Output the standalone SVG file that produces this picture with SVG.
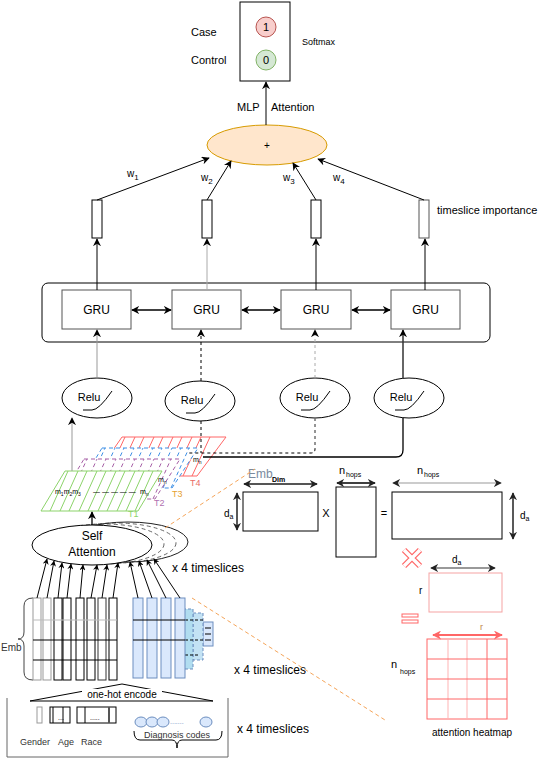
<svg xmlns="http://www.w3.org/2000/svg" width="548" height="762" viewBox="0 0 548 762">
<defs>
<marker id="a" viewBox="0 0 10 10" refX="9" refY="5" markerWidth="8" markerHeight="8" markerUnits="userSpaceOnUse" orient="auto-start-reverse"><path d="M0,0 L10,5 L0,10 L3,5 z" fill="#000"/></marker>
<marker id="as" viewBox="0 0 10 10" refX="9" refY="5" markerWidth="6" markerHeight="6" markerUnits="userSpaceOnUse" orient="auto-start-reverse"><path d="M0,0 L10,5 L0,10 L3,5 z" fill="#000"/></marker>
<marker id="ag" viewBox="0 0 10 10" refX="9" refY="5" markerWidth="8" markerHeight="8" markerUnits="userSpaceOnUse" orient="auto-start-reverse"><path d="M0,0 L10,5 L0,10 L3,5 z" fill="#222"/></marker>
<marker id="ar" viewBox="0 0 10 10" refX="9" refY="5" markerWidth="9" markerHeight="9" markerUnits="userSpaceOnUse" orient="auto-start-reverse"><path d="M0,0 L10,5 L0,10 L3,5 z" fill="#ff6666"/></marker>
</defs>
<style>
text{font-family:"Liberation Sans",Arial,sans-serif;fill:#000}
.t11{font-size:11px}
.t12{font-size:12px}
.t10{font-size:10px}
.t9{font-size:9px}
.sm{font-size:7px}
.box{fill:#fff;stroke:#000;stroke-width:1}
.gru{fill:#fff;stroke:#555;stroke-width:1}
.relu{fill:#fff;stroke:#000;stroke-width:1}
.c{fill:none;stroke:#000;stroke-width:1}
.mid{text-anchor:middle}
</style>

<!-- Softmax output -->
<g id="softmax">
<rect x="240" y="2" width="50" height="79" class="box" stroke-width="1.3"/>
<circle cx="266" cy="27" r="10" fill="#f8cecc" stroke="#b85450"/>
<text x="266" y="31" class="t11 mid">1</text>
<circle cx="266" cy="60" r="10" fill="#d5e8d4" stroke="#82b366"/>
<text x="266" y="64" class="t11 mid">0</text>
<text x="191" y="36" class="t11">Case</text>
<text x="191" y="64" class="t11">Control</text>
<text x="302" y="45" class="t9">Softmax</text>
</g>

<g id="sum">
<ellipse cx="267" cy="145" rx="60" ry="20" fill="#ffe6cc" stroke="#d79b00"/>
<text x="267" y="149" class="t10 mid">+</text>
</g>

<g id="bars">
<rect x="92" y="200" width="10" height="38" class="box"/>
<rect x="202" y="200" width="10" height="38" class="box"/>
<rect x="311" y="200" width="10" height="38" class="box"/>
<rect x="419" y="200" width="10" height="38" fill="#fff" stroke="#555"/>
<text x="437" y="214" class="t11">timeslice importance</text>
</g>

<g id="gru-layer">
<rect x="42" y="283" width="448" height="59" rx="6" fill="none" stroke="#000"/>
<g id="gru1"><rect x="62" y="290" width="69" height="39" class="gru"/><text x="96.5" y="314" class="t12 mid">GRU</text></g>
<g id="gru2"><rect x="172" y="290" width="69" height="39" class="gru"/><text x="206.5" y="314" class="t12 mid">GRU</text></g>
<g id="gru3"><rect x="281" y="290" width="70" height="39" class="gru"/><text x="316" y="314" class="t12 mid">GRU</text></g>
<g id="gru4"><rect x="391" y="290" width="69" height="39" class="gru"/><text x="425.5" y="314" class="t12 mid">GRU</text></g>
</g>

<g id="relus">
<g id="relu1"><ellipse cx="97" cy="398" rx="35" ry="20" class="relu"/><text x="89" y="401" class="t11 mid">Relu</text><path d="M83,410 H92 Q99,410 112,391" class="c"/></g>
<g id="relu2"><ellipse cx="200" cy="401" rx="35" ry="20" class="relu"/><text x="192" y="404" class="t11 mid">Relu</text><path d="M186,413 H195 Q202,413 215,394" class="c"/></g>
<g id="relu3"><ellipse cx="315" cy="398" rx="35" ry="20" class="relu"/><text x="307" y="401" class="t11 mid">Relu</text><path d="M301,410 H310 Q317,410 330,391" class="c"/></g>
<g id="relu4"><ellipse cx="409" cy="398" rx="35" ry="20" class="relu"/><text x="401" y="401" class="t11 mid">Relu</text><path d="M395,410 H404 Q411,410 424,391" class="c"/></g>
</g>

<!-- timeslice planes -->
<g id="plane-T4">
<polygon points="122,437 226,437 197,476 95,476" fill="#fff" stroke="#ff6666"/>
<path d="M107,476L125,437 M117,476L135,437 M126,476L144,437 M136,476L154,437 M145,476L163,437 M155,476L173,437 M164,476L182,437 M174,476L192,437 M183,476L201,437 M192,476L210,437" stroke="#ff6666" fill="none"/>
<text x="193" y="462" class="sm">m<tspan font-size="5" dy="2">n</tspan></text>
<text x="190" y="486" class="t9" style="fill:#ea6b66">T4</text>
</g>
<g id="plane-T3">
<polygon points="102,448 198,448 172,488 78,488" fill="#fff" stroke="#3d8fe6" stroke-dasharray="4 3"/>
<path d="M87,488L105,448 M97,488L115,448 M106,488L124,448 M116,488L134,448 M125,488L143,448 M135,488L153,448 M144,488L162,448 M154,488L172,448 M163,488L181,448 M171,488L189,448" stroke="#3d8fe6" fill="none" stroke-dasharray="4 3"/>
<text x="172" y="497" class="t9" style="fill:#e6a230">T3</text>
</g>
<g id="plane-T2">
<polygon points="84,459 180,459 155,499 60,499" fill="#fff" stroke="#a65fa6" stroke-dasharray="4 3"/>
<path d="M69,499L87,459 M79,499L97,459 M88,499L106,459 M98,499L116,459 M107,499L125,459 M117,499L135,459 M126,499L144,459 M136,499L154,459 M145,499L163,459 M153,499L171,459" stroke="#a65fa6" fill="none" stroke-dasharray="4 3"/>
<text x="158" y="482" class="sm">m<tspan font-size="5" dy="2">n</tspan></text>
<text x="154" y="506" class="t9" style="fill:#b070b0">T2</text>
</g>
<g id="plane-T1">
<polygon points="65,471 162,471 138,511 41,511" fill="#fff" stroke="#8cd36a"/>
<path d="M50,511L68,471 M60,511L78,471 M69,511L87,471 M79,511L97,471 M88,511L106,471 M98,511L116,471 M107,511L125,471 M117,511L135,471 M126,511L144,471 M135,511L153,471" stroke="#8cd36a" fill="none"/>
<text x="55" y="494" class="sm">m<tspan font-size="5" dy="2">1</tspan><tspan dy="-2">m</tspan><tspan font-size="5" dy="2">2</tspan><tspan dy="-2">m</tspan><tspan font-size="5" dy="2">3</tspan></text>
<text x="93" y="494" class="sm">— — — — —</text>
<text x="140" y="494" class="sm">m<tspan font-size="5" dy="2">n</tspan></text>
<text x="128" y="517" class="t9" style="fill:#8cd36a">T1</text>
</g>

<!-- self attention -->
<g id="self-attention">
<ellipse cx="104" cy="544" rx="60" ry="20" fill="none" stroke="#666" stroke-dasharray="4 3"/>
<ellipse cx="116" cy="543" rx="60" ry="20" fill="none" stroke="#666" stroke-dasharray="4 3"/>
<ellipse cx="128" cy="542" rx="60" ry="20" fill="none" stroke="#222"/>
<ellipse cx="92" cy="545" rx="60" ry="20" fill="#fff" stroke="#000"/>
<text x="92" y="540" class="t12 mid">Self</text>
<text x="92" y="556" class="t12 mid">Attention</text>
<text x="172" y="572" class="t12">x 4 timeslices</text>
</g>

<!-- embedding columns -->
<g id="embeddings">
<path d="M33,598 Q24,598 24,606 V632 Q24,639 18,639 Q24,639 24,646 V672 Q24,680 33,680" fill="none" stroke="#444"/>
<text x="1" y="651" class="t10" style="fill:#333">Emb</text>
<g fill="#fff">
<rect x="33" y="598" width="8" height="82" stroke="#999"/>
<rect x="43" y="598" width="8" height="82" stroke="#999"/>
<rect x="54" y="598" width="8" height="82" stroke="#000"/>
<rect x="63" y="598" width="8" height="82" stroke="#000"/>
<rect x="76" y="598" width="8" height="82" stroke="#000"/>
<rect x="87" y="598" width="8" height="82" stroke="#000"/>
<rect x="98" y="598" width="8" height="82" stroke="#333"/>
<rect x="109" y="598" width="8" height="82" stroke="#000"/>
</g>
<path d="M33,620H117" stroke="#bbb"/>
<path d="M33,640H117 M33,660H117" stroke="#000"/>
<rect x="203" y="622" width="10" height="24" fill="#dae8fc" stroke="#6c8ebf"/>
<path d="M205,628H211 M205,634H211 M205,640H211" stroke="#000"/>
<rect x="193" y="613" width="10" height="47" fill="#c3e2f4" stroke="#6c8ebf" stroke-dasharray="3 2"/>
<rect x="183" y="609" width="10" height="60" fill="#b1ddf0" stroke="#6c8ebf" stroke-dasharray="3 2"/>
<path d="M185,620H203 M185,640H203 M185,655H200" stroke="#000" stroke-dasharray="3 2"/>
<g fill="#dae8fc" stroke="#6c8ebf">
<rect x="133" y="598" width="10" height="80"/>
<rect x="147" y="598" width="10" height="80"/>
<rect x="161" y="598" width="10" height="80"/>
<rect x="175" y="598" width="10" height="80"/>
</g>
<path d="M133,620H185 M133,640H185" stroke="#000"/>
<text x="234" y="674" class="t12">x 4 timeslices</text>
</g>

<!-- inputs -->
<g id="inputs">
<path d="M7,698 V757 H228 V698" fill="none" stroke="#666"/>
<polygon points="30,701 122,684 213,701" fill="none" stroke="#000"/>
<rect x="82" y="689" width="80" height="10" fill="#fff"/>
<text x="122" y="698" class="t10 mid">one-hot encode</text>
<rect x="37" y="707" width="5" height="16" fill="#fff" stroke="#999"/>
<rect x="50" y="707" width="20" height="16" fill="#fff" stroke="#000"/>
<path d="M53,707V723 M63,707V723" stroke="#000"/>
<text x="58" y="720" class="sm">...</text>
<rect x="77" y="707" width="39" height="16" fill="#fff" stroke="#000"/>
<path d="M85,707V723" stroke="#000"/>
<path d="M109,707V723" stroke="#555" stroke-width="2"/>
<text x="90" y="720" class="sm">.....</text>
<text x="20" y="745" class="t9" style="fill:#333">Gender</text>
<text x="58" y="745" class="t9" style="fill:#333">Age</text>
<text x="81" y="745" class="t9" style="fill:#333">Race</text>
<g fill="#dae8fc" stroke="#6c8ebf">
<ellipse cx="141" cy="722" rx="6" ry="5"/>
<ellipse cx="152" cy="722" rx="6" ry="5"/>
<ellipse cx="163" cy="722" rx="6" ry="5"/>
<ellipse cx="206" cy="722" rx="6" ry="5"/>
</g>
<text x="170" y="724" class="sm" style="fill:#6c8ebf">.......</text>
<path d="M134,731 Q134,740 140,740 H172 Q177,740 177,748 Q177,740 182,740 H216 Q222,740 222,731" fill="none" stroke="#000"/>
<text x="177" y="738" class="t9 mid" style="fill:#333">Diagnosis codes</text>
<text x="237" y="733" class="t12">x 4 timeslices</text>
</g>

<!-- matrix multiplication -->
<g id="matrix-emb">
<rect x="243" y="492" width="75" height="39" class="box"/>
<text x="248" y="478" class="t12" style="fill:#7a8a9e">Emb</text>
<text x="272" y="482" class="sm" style="font-weight:bold">Dim</text>
<text x="224" y="517" class="t10">d<tspan font-size="7" dy="2">a</tspan></text>
<text x="326" y="517" class="t11 mid">X</text>
</g>
<g id="matrix-hops">
<rect x="336" y="487" width="40" height="70" class="box"/>
<text x="339" y="474" class="t11">n</text>
<text x="346" y="477" class="sm">hops</text>
<text x="384" y="517" class="t11 mid">=</text>
</g>
<g id="matrix-result">
<rect x="392" y="492" width="110" height="47" class="box"/>
<text x="417" y="474" class="t11">n</text>
<text x="424" y="477" class="sm">hops</text>
<text x="520" y="519" class="t10">d<tspan font-size="7" dy="2">a</tspan></text>
</g>
<g id="matrix-r">
<path d="M404,550 L420,566 M420,550 L404,566" stroke="#ff6666" stroke-width="6"/>
<path d="M404,550 L420,566 M420,550 L404,566" stroke="#fff" stroke-width="3.5"/>
<rect x="429" y="573" width="73" height="39" fill="#fff" stroke="#f5a3a3"/>
<text x="452" y="563" class="t10">d<tspan font-size="7" dy="2">a</tspan></text>
<text x="419" y="594" class="t10">r</text>
<rect x="402" y="614" width="16" height="3" fill="none" stroke="#ff6666"/>
<rect x="402" y="620" width="16" height="3" fill="none" stroke="#ff6666"/>
</g>
<g id="heatmap">
<rect x="427" y="639" width="80" height="80" fill="#fff" stroke="#ff6666"/>
<path d="M448,639V719 M467,639V719" stroke="#ffb3b3"/>
<path d="M487,639V719 M427,659H507 M427,679H507 M427,699H507" stroke="#ff6666"/>
<text x="480" y="630" class="t9" style="fill:#c0874f">r</text>
<text x="391" y="668" class="t11">n</text>
<text x="400" y="674" class="sm">hops</text>
<text x="472" y="736" class="t10 mid">attention heatmap</text>
</g>

<!-- connectors -->
<g id="connectors" fill="none">
<path d="M266,125 V82" stroke="#000" marker-end="url(#a)"/>
<text x="237" y="111" class="t11">MLP</text>
<text x="271" y="111" class="t11">Attention</text>
<path d="M97,200 L209,158" stroke="#000" marker-end="url(#a)"/>
<path d="M207,200 L231,161" stroke="#000" marker-end="url(#a)"/>
<path d="M316,200 L293,163" stroke="#000" marker-end="url(#a)"/>
<path d="M424,200 L318,159" stroke="#000" marker-end="url(#a)"/>
<text x="127" y="177" class="t10">w<tspan font-size="8" dy="3">1</tspan></text>
<text x="201" y="181" class="t10">w<tspan font-size="8" dy="3">2</tspan></text>
<text x="283" y="181" class="t10">w<tspan font-size="8" dy="3">3</tspan></text>
<text x="333" y="181" class="t10">w<tspan font-size="8" dy="3">4</tspan></text>
<path d="M97,290 V239" stroke="#000" marker-end="url(#a)"/>
<path d="M207,290 V239" stroke="#aaa" marker-end="url(#a)"/>
<path d="M316,290 V239" stroke="#000" marker-end="url(#a)"/>
<path d="M425,290 V239" stroke="#000" marker-end="url(#a)"/>
<path d="M132,310 H171" stroke="#000" stroke-width="1.5" marker-start="url(#a)" marker-end="url(#a)"/>
<path d="M242,310 H280" stroke="#000" stroke-width="1.5" marker-start="url(#a)" marker-end="url(#a)"/>
<path d="M352,310 H390" stroke="#000" stroke-width="1.5" marker-start="url(#a)" marker-end="url(#a)"/>
<path d="M97,378 V330" stroke="#999" marker-end="url(#a)"/>
<path d="M201,381 V330" stroke="#000" stroke-dasharray="3 3" marker-end="url(#a)"/>
<path d="M315,378 V330" stroke="#aaa" stroke-dasharray="3 3" marker-end="url(#a)"/>
<path d="M403,378 V330" stroke="#333" stroke-width="1.5" marker-end="url(#a)"/>
<path d="M72,471 V418" stroke="#999" marker-end="url(#a)"/>
<path d="M201,421 V453" stroke="#000" stroke-dasharray="3 3"/>
<path d="M315,418 V449 Q315,453 311,453 H189" stroke="#000" stroke-dasharray="3 3"/>
<path d="M315,418 V449" stroke="#aaa" stroke-dasharray="3 3"/>
<path d="M403,418 V450 Q403,457 396,457 H203" stroke="#000" stroke-width="1.3"/>
<path d="M92,525 V512" stroke="#000" stroke-width="1.3" marker-end="url(#a)"/>
<path d="M37,598 L47,559" stroke="#000" marker-end="url(#as)"/>
<path d="M47,598 L54,561" stroke="#000" marker-end="url(#as)"/>
<path d="M58,598 L62,563" stroke="#000" marker-end="url(#as)"/>
<path d="M67,598 L71,564" stroke="#000" marker-end="url(#as)"/>
<path d="M80,598 L83,565" stroke="#000" marker-end="url(#as)"/>
<path d="M91,598 L97,565" stroke="#000" marker-end="url(#as)"/>
<path d="M102,598 L107,565" stroke="#000" marker-end="url(#as)"/>
<path d="M113,598 L118,563" stroke="#000" marker-end="url(#as)"/>
<path d="M138,598 L130,562" stroke="#000" marker-end="url(#as)"/>
<path d="M152,598 L139,561" stroke="#000" marker-end="url(#as)"/>
<path d="M166,598 L147,560" stroke="#000" marker-end="url(#as)"/>
<path d="M180,598 L154,559" stroke="#000" marker-end="url(#as)"/>
<path d="M165,528 L255,469" stroke="#f5a55a" stroke-dasharray="4 3"/>
<path d="M192,598 L385,720" stroke="#f5a55a" stroke-dasharray="4 3"/>
<path d="M244,484 H317" stroke="#555" stroke-width="2" marker-start="url(#ag)" marker-end="url(#ag)"/>
<path d="M237,493 V530" stroke="#222" stroke-width="1.5" marker-start="url(#ag)" marker-end="url(#ag)"/>
<path d="M337,483 H375" stroke="#000" stroke-width="1.5" marker-start="url(#ag)" marker-end="url(#ag)"/>
<path d="M393,483 H501" stroke="#bbb" stroke-width="1.5" marker-start="url(#ag)" marker-end="url(#ag)"/>
<path d="M513,493 V539" stroke="#222" stroke-width="1.5" marker-start="url(#ag)" marker-end="url(#ag)"/>
<path d="M431,568 H495" stroke="#777" stroke-width="1.5" marker-start="url(#ag)" marker-end="url(#ag)"/>
<path d="M433,635 H502" stroke="#ff6666" stroke-width="2" marker-start="url(#ar)" marker-end="url(#ar)"/>
</g>
</svg>
